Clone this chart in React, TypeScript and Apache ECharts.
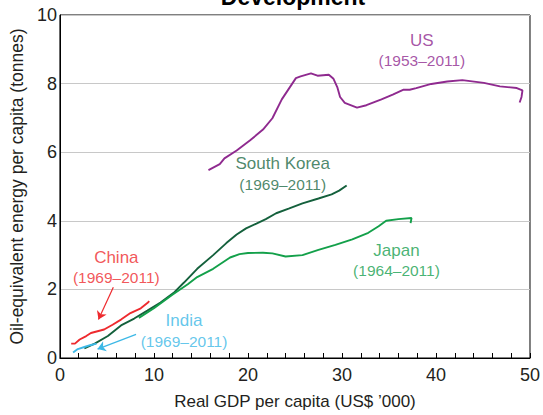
import React, { useEffect, useRef } from "react";
import * as echarts from "echarts";

const FONT = "'Liberation Sans', Arial, sans-serif";

const usData: number[][] = [
  [15.8, 5.48], [17.0, 5.65], [17.5, 5.82], [18.8, 6.05], [20.2, 6.34], [21.6, 6.66],
  [22.6, 6.99], [23.6, 7.54], [25.1, 8.16], [25.6, 8.21], [26.7, 8.3], [27.4, 8.23],
  [28.6, 8.26], [29.1, 8.14], [29.5, 7.9], [29.8, 7.61], [30.3, 7.44], [31.6, 7.3],
  [32.6, 7.37], [34.2, 7.54], [35.4, 7.68], [36.5, 7.82], [37.2, 7.82], [37.9, 7.87],
  [39.5, 7.99], [41.2, 8.06], [42.8, 8.1], [45.1, 8.02], [46.8, 7.92], [48.6, 7.87],
  [49.2, 7.8], [49.1, 7.61], [48.9, 7.45],
];

const koreaData: number[][] = [
  [2.6, 0.28], [3.7, 0.42], [5.1, 0.64], [6.5, 0.95], [7.9, 1.15], [9.3, 1.38],
  [10.7, 1.62], [12.1, 1.9], [13.2, 2.2], [14.6, 2.6], [16.3, 3.0], [17.7, 3.35],
  [18.8, 3.6], [19.8, 3.78], [20.9, 3.92], [21.9, 4.05], [23.0, 4.22], [24.4, 4.36],
  [25.8, 4.51], [27.5, 4.65], [28.9, 4.77], [29.7, 4.88], [30.5, 5.03],
];

const japanData: number[][] = [
  [8.4, 1.17], [10.0, 1.45], [12.0, 1.85], [13.6, 2.15], [14.6, 2.36], [16.3, 2.6],
  [18.1, 2.93], [19.1, 3.03], [20.0, 3.06], [21.6, 3.07], [22.6, 3.05], [24.0, 2.96],
  [25.8, 3.0], [27.5, 3.15], [29.3, 3.3], [31.1, 3.46], [32.8, 3.65], [33.9, 3.84],
  [34.7, 4.0], [36.0, 4.05], [37.4, 4.08], [37.3, 3.93],
];

const chinaData: number[][] = [
  [1.2, 0.42], [1.6, 0.42], [2.1, 0.54], [2.8, 0.64], [3.3, 0.73], [4.0, 0.78],
  [4.7, 0.83], [5.6, 0.97], [6.5, 1.12], [7.5, 1.31], [8.6, 1.45], [9.3, 1.6], [9.5, 1.66],
];

const indiaData: number[][] = [
  [1.4, 0.16], [1.9, 0.26], [2.6, 0.32], [3.3, 0.38], [3.9, 0.42],
];

const chinaArrow: number[][] = [[5.68, 2.06], [4.1, 1.12]];
const indiaArrow: number[][] = [[8.1, 0.69], [4.0, 0.26]];

const labels = [
  { name: "US", years: "(1953–2011)", pos: [38.5, 8.97], color: "#8f2a8f" },
  { name: "South Korea", years: "(1969–2011)", pos: [23.7, 5.37], color: "#1d6a45" },
  { name: "Japan", years: "(1964–2011)", pos: [35.8, 2.85], color: "#17a050" },
  { name: "China", years: "(1969–2011)", pos: [6.0, 2.65], color: "#ee2a2e" },
  { name: "India", years: "(1969–2011)", pos: [13.2, 0.79], color: "#3cb8e6" },
];

const COLORS = {
  us: "#8f2a8f",
  korea: "#14603c",
  japan: "#13a04a",
  china: "#ee2a2e",
  india: "#3cb8e6",
};

export default function App() {
  const ref = useRef<HTMLDivElement>(null);
  useEffect(() => {
    if (!ref.current) return;
    const chart = echarts.init(ref.current, undefined, { renderer: "svg" });
    const lineSeries = (data: number[][], color: string) => ({
      type: "line",
      data,
      showSymbol: false,
      symbol: "none",
      lineStyle: { color, width: 1.9 },
      silent: true,
      z: 3,
    });
    const arrowSeries = (coords: number[][], color: string) => ({
      type: "lines",
      coordinateSystem: "cartesian2d",
      symbol: ["none", "arrow"],
      symbolSize: 8,
      silent: true,
      lineStyle: { color, width: 1.2, opacity: 1 },
      data: [{ coords }],
      z: 4,
    });
    const labelSeries = labels.map((l) => ({
      type: "scatter",
      data: [l.pos],
      symbolSize: 0,
      silent: true,
      z: 5,
      label: {
        show: true,
        position: "inside",
        formatter: `{a|${l.name}}\n{b|${l.years}}`,
        align: "center",
        rich: {
          a: { fontSize: 17, lineHeight: 21, color: l.color, fontFamily: FONT, align: "center" },
          b: { fontSize: 15.5, lineHeight: 20, color: l.color, fontFamily: FONT, align: "center" },
        },
      },
    }));
    chart.setOption({
      animation: false,
      textStyle: { fontFamily: FONT },
      grid: {
        left: 55,
        right: 13,
        top: 15,
        bottom: 51,
        show: true,
        borderColor: "#000",
        borderWidth: 1,
        backgroundColor: "transparent",
      },
      graphic: [
        {
          type: "text",
          x: 293,
          y: -3.5,
          style: {
            text: "Development",
            font: `bold 23px ${FONT}`,
            fill: "#000",
            align: "center",
            verticalAlign: "middle",
          },
        },
      ],
      xAxis: {
        type: "value",
        min: 0,
        max: 50,
        interval: 10,
        name: "Real GDP per capita (US$ ’000)",
        nameLocation: "middle",
        nameGap: 35,
        nameTextStyle: { fontSize: 17, color: "#231f20", fontFamily: FONT },
        axisLine: { show: true, lineStyle: { color: "#000", width: 1 } },
        axisTick: { show: true, inside: true, length: 5, lineStyle: { color: "#000" } },
        minorTick: { show: true, splitNumber: 5, length: 5, lineStyle: { color: "#000" } },
        axisLabel: { fontSize: 18, color: "#231f20", margin: 8, fontFamily: FONT },
        splitLine: { show: false },
      },
      yAxis: {
        type: "value",
        min: 0,
        max: 10,
        interval: 2,
        name: "Oil-equivalent energy per capita (tonnes)",
        nameLocation: "middle",
        nameGap: 28,
        nameTextStyle: { fontSize: 17.5, color: "#231f20", fontFamily: FONT },
        axisLine: { show: true, lineStyle: { color: "#000", width: 1 } },
        axisTick: { show: false },
        axisLabel: { fontSize: 18, color: "#231f20", margin: 3, fontFamily: FONT },
        splitLine: { show: true, lineStyle: { color: "#c8c8c8", width: 1 } },
      },
      series: [
        lineSeries(usData, COLORS.us),
        lineSeries(koreaData, COLORS.korea),
        lineSeries(japanData, COLORS.japan),
        lineSeries(chinaData, COLORS.china),
        lineSeries(indiaData, COLORS.india),
        arrowSeries(chinaArrow, COLORS.china),
        arrowSeries(indiaArrow, COLORS.india),
        ...labelSeries,
      ],
    } as any);
    return () => chart.dispose();
  }, []);
  return (
    <div
      ref={ref}
      style={{ position: "fixed", left: 0, top: 0, width: 543, height: 415, background: "#fff" }}
    />
  );
}
